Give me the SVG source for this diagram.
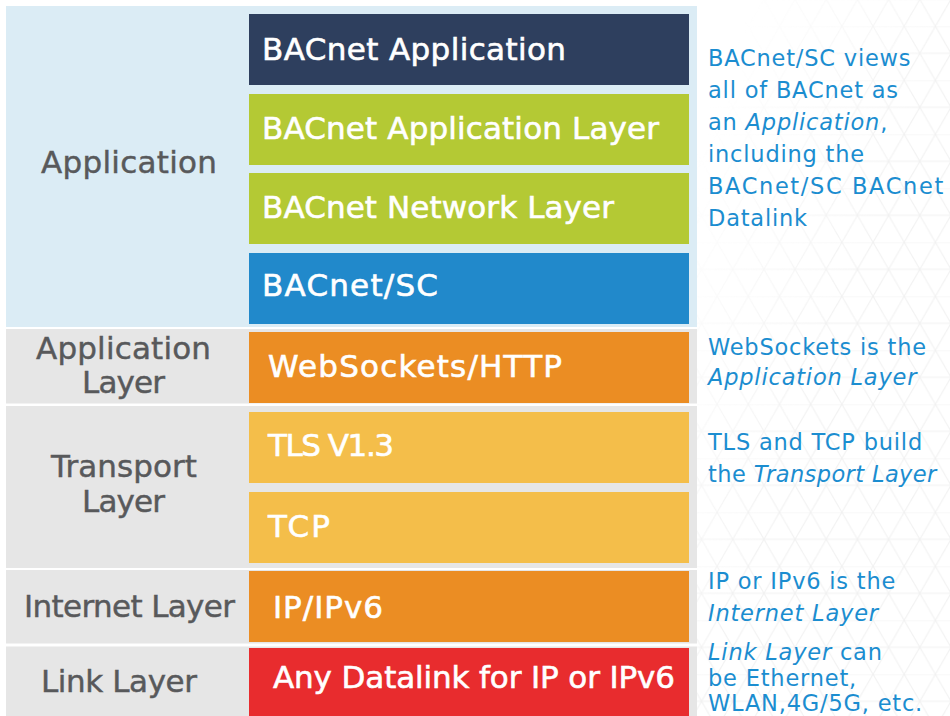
<svg xmlns="http://www.w3.org/2000/svg" width="950" height="716" viewBox="0 0 950 716">
<style>
.box{font-family:"DejaVu Sans","Liberation Sans",sans-serif;font-size:31px;fill:#ffffff;stroke:#ffffff;stroke-width:0.6}
.lbl{font-family:"DejaVu Sans","Liberation Sans",sans-serif;font-size:31px;fill:#58595b;stroke:#58595b;stroke-width:0.45;text-anchor:middle}
.note{font-family:"DejaVu Sans","Liberation Sans",sans-serif;font-size:22.5px;fill:#1b8dd0;letter-spacing:0.8px}
.it{font-style:italic}
.band-a{fill:#dbecf5}
.band{fill:#e6e6e6}
</style>
<defs>
<pattern id="tri" patternUnits="userSpaceOnUse" x="0" y="26.3" width="31.18" height="54">
<path d="M0 0H31.18M0 27H31.18M0 0L31.18 54M31.18 0L0 54" fill="none" stroke="#f1f1f1" stroke-width="1.1"/>
</pattern>
<linearGradient id="fade" x1="0" y1="0" x2="1" y2="1">
<stop offset="0.1" stop-color="#fff" stop-opacity="0"/>
<stop offset="0.5" stop-color="#fff" stop-opacity="1"/>
</linearGradient>
<mask id="m"><rect x="697" y="0" width="253" height="716" fill="url(#fade)"/></mask>
</defs>
<rect x="0" y="0" width="950" height="716" fill="#ffffff"/>
<rect x="697" y="0" width="253" height="716" fill="url(#tri)" mask="url(#m)"/>

<g id="band-application">
<rect class="band-a" x="6" y="6" width="691" height="321"/>
<text class="lbl" x="129" y="173" textLength="176" lengthAdjust="spacing">Application</text>
</g>
<g id="band-application-layer">
<rect class="band" x="6" y="329" width="691" height="74.5"/>
<text class="lbl" x="123.5" y="359" textLength="175" lengthAdjust="spacing">Application</text>
<text class="lbl" x="123.5" y="392.5" textLength="83" lengthAdjust="spacing">Layer</text>
</g>
<g id="band-transport-layer">
<rect class="band" x="6" y="406" width="691" height="162"/>
<text class="lbl" x="124" y="477" textLength="146" lengthAdjust="spacing">Transport</text>
<text class="lbl" x="123.5" y="511.5" textLength="83" lengthAdjust="spacing">Layer</text>
</g>
<g id="band-internet-layer">
<rect class="band" x="6" y="570" width="691" height="73.5"/>
<text class="lbl" x="129.5" y="617" textLength="211" lengthAdjust="spacing">Internet Layer</text>
</g>
<g id="band-link-layer">
<rect class="band" x="6" y="646.5" width="691" height="70"/>
<text class="lbl" x="119" y="692" textLength="156" lengthAdjust="spacing">Link Layer</text>
</g>

<g id="bacnet-application">
<rect x="249" y="14" width="440" height="71" fill="#2e3f5e"/>
<text class="box" x="262" y="59.5" textLength="304" lengthAdjust="spacing">BACnet Application</text>
</g>
<g id="bacnet-application-layer">
<rect x="249" y="94" width="440" height="71" fill="#b4c934"/>
<text class="box" x="262" y="138.5" textLength="397" lengthAdjust="spacing">BACnet Application Layer</text>
</g>
<g id="bacnet-network-layer">
<rect x="249" y="173" width="440" height="71" fill="#b4c934"/>
<text class="box" x="262" y="218" textLength="352" lengthAdjust="spacing">BACnet Network Layer</text>
</g>
<g id="bacnet-sc">
<rect x="249" y="253" width="440" height="71" fill="#2189cb"/>
<text class="box" x="262" y="296" textLength="176" lengthAdjust="spacing">BACnet/SC</text>
</g>
<g id="websockets">
<rect x="249" y="332" width="440" height="71" fill="#eb8d23"/>
<text class="box" x="268" y="377" textLength="294" lengthAdjust="spacing">WebSockets/HTTP</text>
</g>
<g id="tls">
<rect x="249" y="412" width="440" height="71" fill="#f4be4a"/>
<text class="box" x="268" y="456" textLength="126" lengthAdjust="spacing">TLS V1.3</text>
</g>
<g id="tcp">
<rect x="249" y="492" width="440" height="71" fill="#f4be4a"/>
<text class="box" x="268" y="537" textLength="62" lengthAdjust="spacing">TCP</text>
</g>
<g id="ip">
<rect x="249" y="571" width="440" height="71" fill="#eb8d23"/>
<text class="box" x="273" y="617.5" textLength="110" lengthAdjust="spacing">IP/IPv6</text>
</g>
<g id="datalink">
<rect x="249" y="648" width="440" height="70" fill="#e82c2e"/>
<text class="box" x="273" y="688" textLength="402" lengthAdjust="spacing">Any Datalink for IP or IPv6</text>
</g>

<g id="note-application">
<text class="note" x="708" y="66">BACnet/SC views</text>
<text class="note" x="708" y="98">all of BACnet as</text>
<text class="note" x="708" y="130">an <tspan class="it">Application</tspan>,</text>
<text class="note" x="708" y="162">including the</text>
<text class="note" x="708" y="194" textLength="236" lengthAdjust="spacing">BACnet/SC BACnet</text>
<text class="note" x="708" y="226">Datalink</text>
</g>
<g id="note-app-layer">
<text class="note" x="708" y="355">WebSockets is the</text>
<text class="note it" x="708" y="385">Application Layer</text>
</g>
<g id="note-transport">
<text class="note" x="708" y="450">TLS and TCP build</text>
<text class="note" x="708" y="482" style="letter-spacing:0.4px">the <tspan class="it">Transport Layer</tspan></text>
</g>
<g id="note-internet">
<text class="note" x="708" y="589">IP or IPv6 is the</text>
<text class="note it" x="708" y="621">Internet Layer</text>
</g>
<g id="note-link">
<text class="note" x="708" y="660"><tspan class="it">Link Layer</tspan> can</text>
<text class="note" x="708" y="686">be Ethernet,</text>
<text class="note" x="708" y="711">WLAN,4G/5G, etc.</text>
</g>
</svg>
